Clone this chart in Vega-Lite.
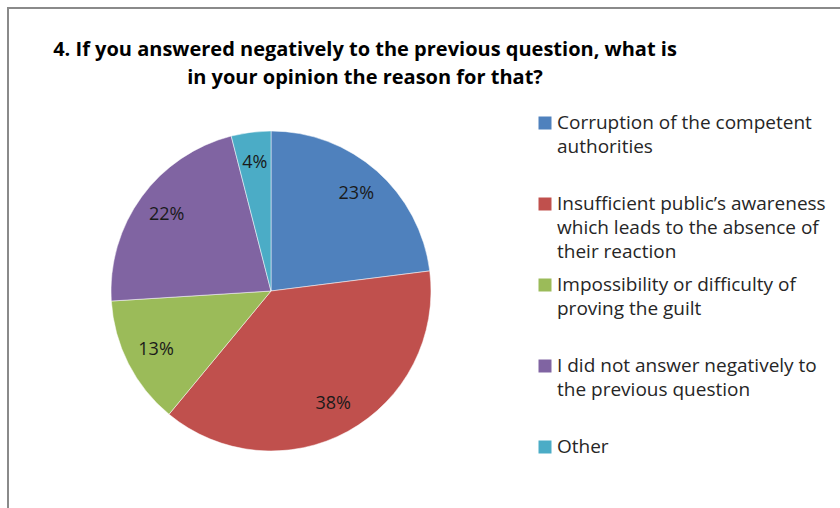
{
  "$schema": "https://vega.github.io/schema/vega-lite/v6.json",
  "width": 840,
  "height": 508,
  "autosize": "none",
  "padding": {"left": 8, "top": 8, "right": 0, "bottom": 0},
  "background": "white",
  "config": {
    "view": {"stroke": "#8a8a8a", "strokeWidth": 2},
    "font": "Open Sans"
  },
  "title": {
    "text": ["4. If you answered negatively to the previous question, what is", "in your opinion the reason for that?"],
    "anchor": "middle",
    "frame": "group",
    "orient": "top",
    "baseline": "top",
    "offset": 0,
    "dx": -63,
    "dy": 80,
    "font": "Open Sans",
    "fontSize": 20,
    "fontWeight": "bold",
    "lineHeight": 28,
    "color": "#000000"
  },
  "data": {
    "values": [
      {"order": 1, "cat": "Corruption of the competent authorities", "label": "Corruption of the competent\nauthorities", "value": 23, "pct": "23%"},
      {"order": 2, "cat": "Insufficient public’s awareness which leads to the absence of their reaction", "label": "Insufficient public’s awareness\nwhich leads to the absence of\ntheir reaction", "value": 38, "pct": "38%"},
      {"order": 3, "cat": "Impossibility or difficulty of proving the guilt", "label": "Impossibility or difficulty of\nproving the guilt", "value": 13, "pct": "13%"},
      {"order": 4, "cat": "I did not answer negatively to the previous question", "label": "I did not answer negatively to\nthe previous question", "value": 22, "pct": "22%"},
      {"order": 5, "cat": "Other", "label": "Other", "value": 4, "pct": "4%"}
    ]
  },
  "layer": [
    {
      "mark": {"type": "arc", "radius": 160, "stroke": "white", "strokeWidth": 0.5},
      "encoding": {
        "theta": {"field": "value", "type": "quantitative", "stack": true},
        "order": {"field": "order", "type": "quantitative"},
        "x": {"value": 263},
        "y": {"value": 283},
        "color": {
          "field": "cat", "type": "nominal", "legend": null,
          "sort": {"field": "order"},
          "scale": {
            "domain": ["Corruption of the competent authorities", "Insufficient public’s awareness which leads to the absence of their reaction", "Impossibility or difficulty of proving the guilt", "I did not answer negatively to the previous question", "Other"],
            "range": ["#4F81BD", "#C0504D", "#9BBB59", "#8064A2", "#4BACC6"]
          }
        }
      }
    },
    {
      "mark": {"type": "text", "radius": 129, "fontSize": 18, "font": "Open Sans", "color": "#1a1a1a"},
      "encoding": {
        "theta": {"field": "value", "type": "quantitative", "stack": true},
        "order": {"field": "order", "type": "quantitative"},
        "x": {"value": 263},
        "y": {"value": 283},
        "text": {"field": "pct"}
      }
    },
    {
      "mark": {"type": "point", "shape": "square", "filled": true, "size": 169, "opacity": 1},
      "encoding": {
        "x": {"value": 537},
        "y": {"field": "cat", "type": "nominal", "sort": {"field": "order"}, "axis": null, "scale": {"type": "point", "range": [115, 439], "padding": 0}},
        "color": {"field": "cat", "type": "nominal", "legend": null}
      }
    },
    {
      "mark": {"type": "text", "align": "left", "baseline": "top", "lineBreak": "\n", "dy": -9, "fontSize": 19, "font": "Open Sans", "lineHeight": 24, "color": "#262626"},
      "encoding": {
        "x": {"value": 549},
        "y": {"field": "cat", "type": "nominal", "sort": {"field": "order"}, "axis": null, "scale": {"type": "point", "range": [115, 439], "padding": 0}},
        "text": {"field": "label"}
      }
    }
  ]
}
